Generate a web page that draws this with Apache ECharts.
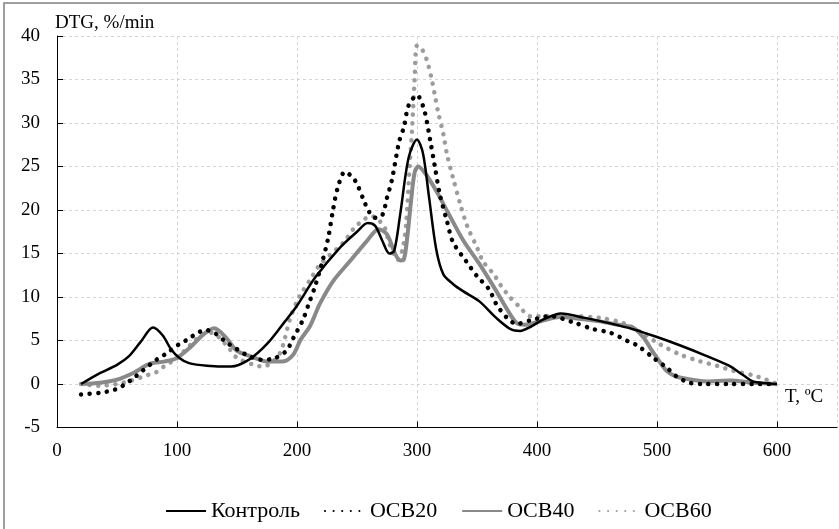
<!DOCTYPE html>
<html>
<head>
<meta charset="utf-8">
<script src="https://cdn.jsdelivr.net/npm/echarts@6/dist/echarts.min.js"></script>
<style>html,body{margin:0;padding:0;background:#fff}#c{width:839px;height:529px}</style>
</head>
<body>
<div id="c"></div>
<script>
var seriesNames = ['Контроль', 'OCB20', 'OCB40', 'OCB60'];
var xTicks = [0, 100, 200, 300, 400, 500, 600];
var yTicks = [-5, 0, 5, 10, 15, 20, 25, 30, 35, 40];

var control = [[20,0],[35,1.2],[50,2.2],[60,3.2],[70,4.9],[80,6.5],[88,5.6],[95,4.0],[102,3.0],[110,2.4],[125,2.1],[145,2.0],[160,2.8],[175,4.6],[190,7.2],[200,9.0],[215,12.2],[236,15.7],[250,17.5],[259,18.5],[265,18.2],[271,16.5],[277,15.0],[281,15.3],[286,19.5],[293,26],[300,28.1],[305,26.5],[310,21.5],[316,15.5],[322,12.6],[330,11.5],[338,10.7],[352,9.5],[366,7.6],[378,6.3],[386,6.1],[395,6.6],[405,7.4],[420,8.1],[440,7.6],[460,7.0],[480,6.3],[500,5.4],[520,4.4],[540,3.3],[560,2.1],[572,1.0],[580,0.3],[590,0.1],[600,0]];

var ocb20 = [[20,-1.2],[36,-1.0],[44,-0.8],[51,-0.5],[58,0.1],[64,0.7],[71,1.5],[83,2.8],[90,3.4],[102,4.6],[110,5.2],[116,5.8],[124,6.2],[132,5.8],[141,4.8],[150,4.0],[160,3.2],[170,2.8],[180,2.9],[191,3.8],[197,5.3],[205,7.4],[210,9.3],[215,11.2],[221,14.0],[226,16.8],[230,20.0],[234,22.6],[240,24.4],[246,23.8],[250,23.0],[256,21.0],[260,19.8],[265,19.1],[271,19.4],[275,21.4],[279,23.4],[285,27.8],[289,29.5],[293,32],[300,33.2],[306,31.5],[311,28],[315,24.9],[319,21.8],[325,18.7],[330,16.3],[341,14.1],[350,12.4],[360,10.9],[366,9.2],[375,7.6],[383,6.9],[394,7.3],[411,7.8],[430,7.1],[447,6.3],[461,5.9],[476,4.9],[484,4.4],[497,3.0],[508,1.9],[516,0.9],[527,0.15],[540,0],[560,0],[580,0],[600,0]];

var ocb40 = [[20,0],[36,0.15],[50,0.5],[64,1.3],[77,2.3],[90,2.6],[100,3.0],[111,4.2],[122,5.7],[131,6.4],[141,5.3],[150,3.8],[161,3.2],[175,2.6],[188,2.6],[197,3.4],[203,5.1],[211,6.7],[219,9.2],[230,11.8],[244,14.1],[258,16.4],[268,17.8],[275,17.2],[282,14.9],[286,14.2],[289,14.3],[292,17],[295,21],[298,24.3],[301,25.0],[308,24],[316,22.2],[327,19.4],[339,16.4],[352,13.8],[366,10.7],[375,8.6],[383,7.0],[390,6.8],[405,7.3],[419,7.7],[435,7.5],[452,7.2],[468,6.8],[480,6.5],[489,5.3],[495,4.0],[500,3.0],[508,1.5],[515,0.9],[522,0.65],[541,0.3],[561,0.4],[580,0.15],[600,0]];

var ocb60 = [[20,0],[35,-0.2],[50,0],[62,0.4],[75,1.0],[82,1.3],[89,2.0],[100,3.0],[112,4.6],[120,5.6],[128,5.9],[134,5.5],[144,4.0],[150,3.0],[164,2.2],[172,2.0],[180,2.6],[186,3.6],[190,5.3],[194,7.4],[200,9.5],[204,10.5],[212,12.2],[219,13.7],[239,16.3],[248,18.0],[254,18.7],[261,19.3],[266,19.1],[273,18.0],[276,16.6],[280,15.0],[284,14.3],[288,15.5],[291,18.5],[294,25.3],[296,29.5],[298,35],[300,38.9],[304,38.5],[308,37.3],[312,35.2],[315,33.1],[318,31.0],[322,28.7],[325,26.4],[330,23.7],[336,20.7],[342,18.1],[350,15.7],[355,14.1],[364,12.6],[370,11.3],[378,9.9],[386,8.8],[394,7.8],[410,7.8],[430,7.8],[452,7.6],[472,7.0],[486,6.0],[502,4.6],[519,3.4],[536,2.6],[550,2.1],[564,1.5],[580,1.0],[591,0.5],[600,0]];

var FONT = '"Liberation Serif", "Times New Roman", serif';
var chart = echarts.init(document.getElementById('c'), null, {renderer: 'canvas'});
chart.setOption({
  animation: false,
  backgroundColor: '#fff',
  grid: {left: 57, top: 36, right: 2, bottom: 101.5, containLabel: false},
  graphic: [
    {type: 'rect', shape: {x: 4, y: 3, width: 900, height: 700}, style: {fill: 'none', stroke: '#808080', lineWidth: 1.5}, silent: true, z: -1},
    {type: 'text', left: 55, top: 14, style: {text: 'DTG, %/min', font: '19px ' + FONT, fill: '#000'}},
    {type: 'text', left: 785, top: 388, style: {text: 'T, ºC', font: '19px ' + FONT, fill: '#000'}}
  ],
  legend: {
    data: seriesNames,
    bottom: 2,
    left: 160,
    itemWidth: 40,
    itemHeight: 14,
    itemGap: 24,
    itemStyle: {opacity: 0},
    textStyle: {fontFamily: FONT, fontSize: 22, color: '#000'}
  },
  xAxis: {
    type: 'value', min: 0, max: 650, interval: 100,
    axisLine: {onZero: false, lineStyle: {color: '#000', width: 1}},
    axisTick: {inside: true, length: 6, lineStyle: {color: '#000'}},
    axisLabel: {fontFamily: FONT, fontSize: 19, color: '#000', margin: 14, showMaxLabel: false,
      formatter: function (v) { return xTicks.indexOf(v) >= 0 ? String(v) : ''; }},
    splitLine: {show: true, lineStyle: {color: '#d4d4d4', type: [3, 3], width: 1}}
  },
  yAxis: {
    type: 'value', min: -5, max: 40, interval: 5,
    axisLine: {show: true, lineStyle: {color: '#000', width: 1}},
    axisTick: {show: true, inside: true, length: 6, lineStyle: {color: '#000'}},
    axisLabel: {fontFamily: FONT, fontSize: 19, color: '#000', margin: 17,
      formatter: function (v) { return yTicks.indexOf(v) >= 0 ? String(v) : ''; }},
    splitLine: {show: true, lineStyle: {color: '#d4d4d4', type: [3, 3], width: 1}}
  },
  series: [
    {name: seriesNames[0], type: 'line', data: control, smooth: 0.3, symbol: 'none', z: 4,
      lineStyle: {color: '#000', width: 2.5}, itemStyle: {color: '#000'}},
    {name: seriesNames[1], type: 'line', data: ocb20, smooth: 0.3, symbol: 'none', z: 3,
      lineStyle: {color: '#000', width: 4.5, type: [0.1, 8.5], cap: 'round'}, itemStyle: {color: '#000'}},
    {name: seriesNames[2], type: 'line', data: ocb40, smooth: 0.3, symbol: 'none', z: 2,
      lineStyle: {color: '#898989', width: 4}, itemStyle: {color: '#898989'}},
    {name: seriesNames[3], type: 'line', data: ocb60, smooth: 0.3, symbol: 'none', z: 1,
      lineStyle: {color: '#9c9c9c', width: 4.5, type: [0.1, 8.5], cap: 'round'}, itemStyle: {color: '#9c9c9c'}}
  ]
});
</script>
</body>
</html>
